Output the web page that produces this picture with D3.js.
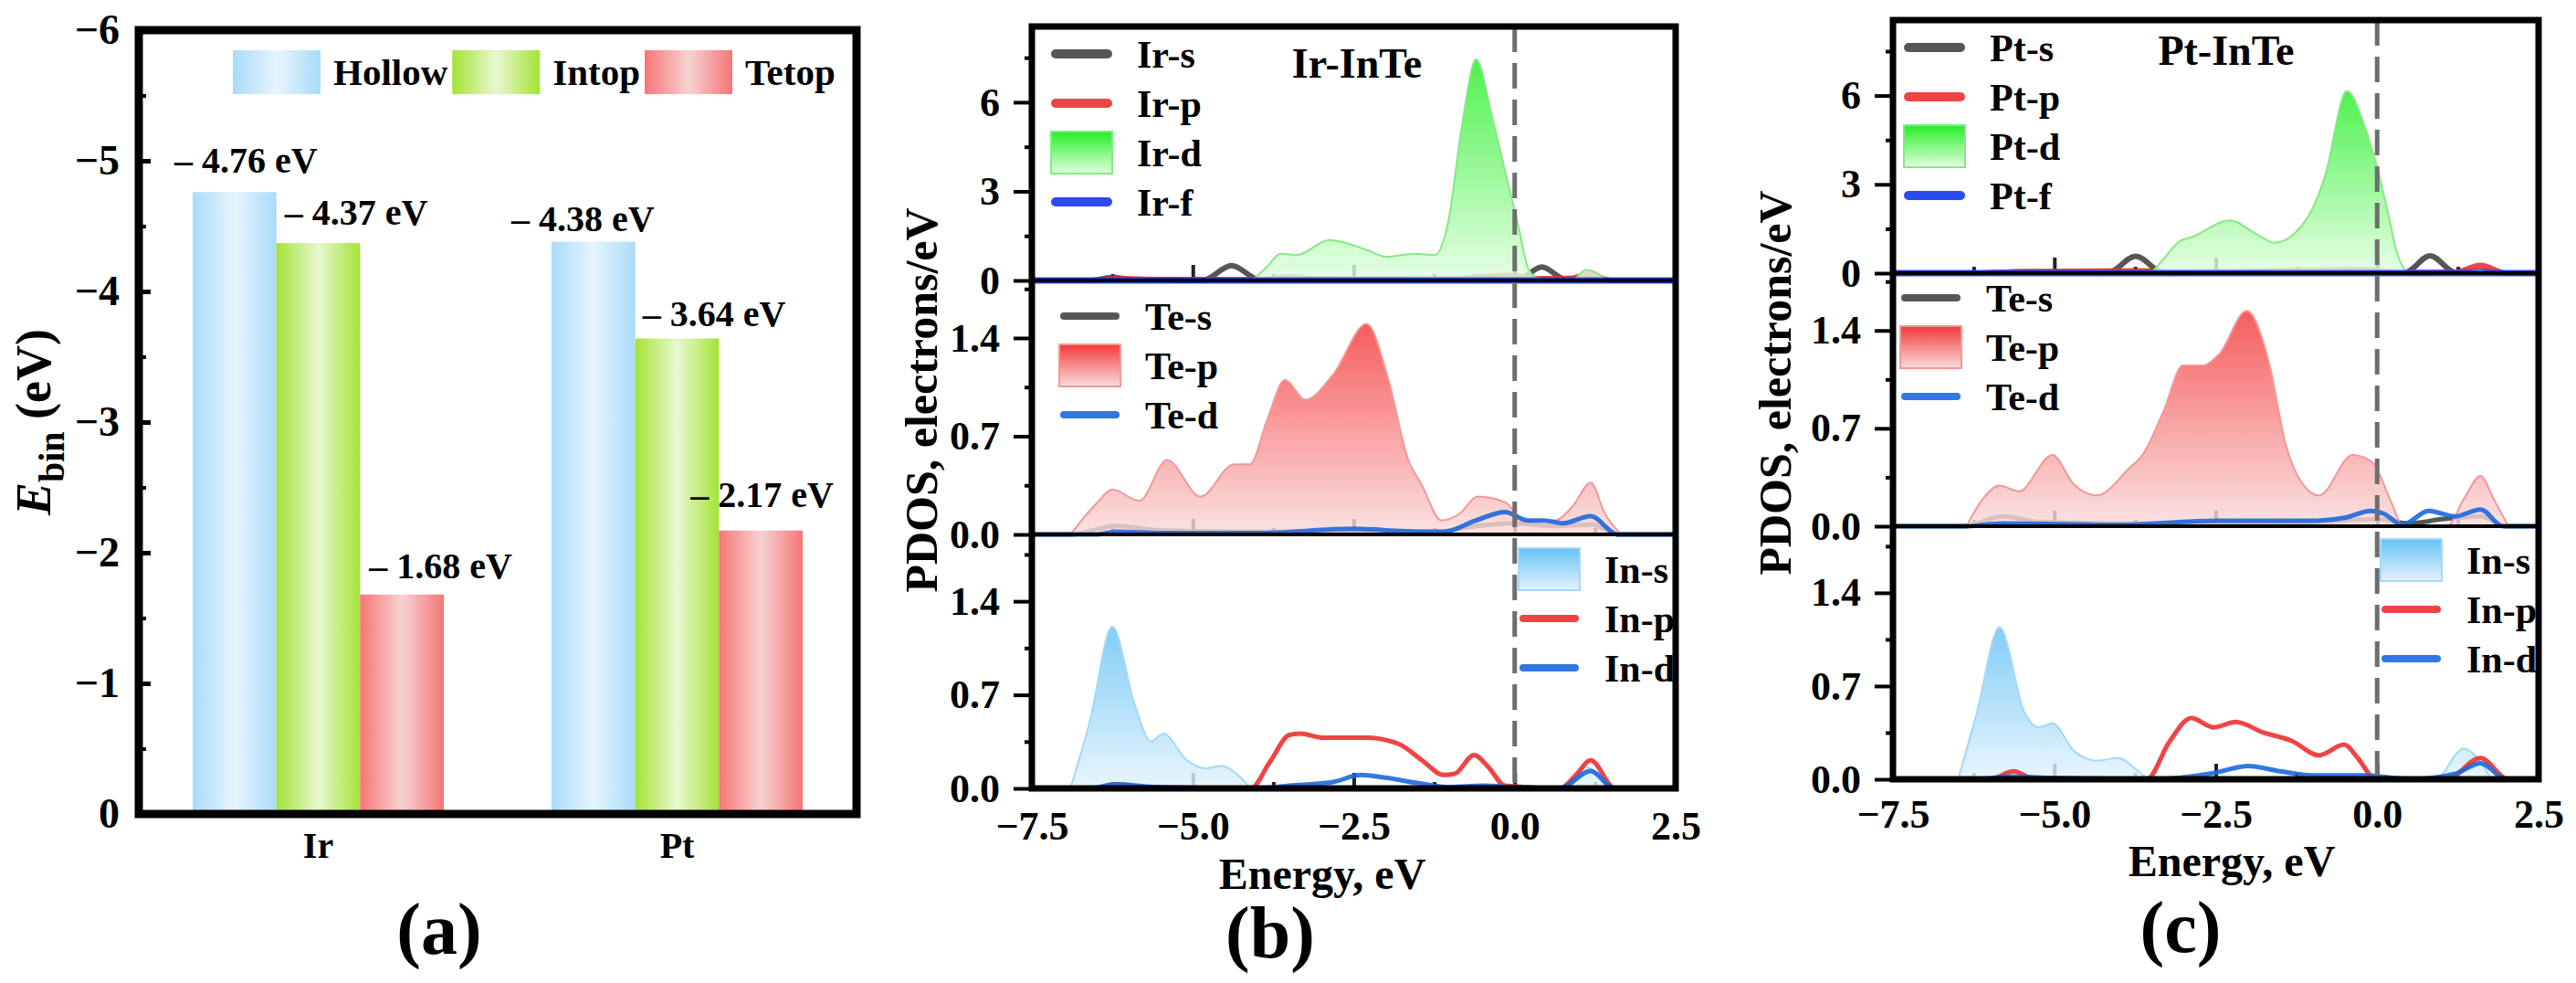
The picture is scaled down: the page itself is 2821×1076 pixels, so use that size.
<!DOCTYPE html>
<html>
<head>
<meta charset="utf-8">
<script src="https://cdn.jsdelivr.net/npm/d3@7"></script>
<style>
  body { margin: 0; background: #fff; }
  text { font-family: "Liberation Serif", "Times New Roman", serif; font-weight: bold; }
</style>
</head>
<body>
<svg id="fig"></svg>
<script>
// ---- (a) binding energies ----
const metals = ["Ir", "Pt"];
const sites = ["Hollow", "Intop", "Tetop"];
const eHollow = [-4.76, -4.38];
const eIntop = [-4.37, -3.64];
const eTetop = [-1.68, -2.17];
const bindTicks = [0, -1, -2, -3, -4, -5, -6];

// ---- PDOS, energy in eV vs states ----
const energyTicks = [-7.5, -5.0, -2.5, 0.0, 2.5];

// (b) Ir-InTe
const irS = [[-7.5,0],[-6.6,0],[-6.25,0.1],[-5.9,0.02],[-4.85,0],[-4.4,0.5],[-3.95,0.02],[-3.5,0.05],[-1.0,0.03],[-0.5,0.12],[0.05,0.02],[0.42,0.45],[0.8,0.03],[1.1,0.1],[1.5,0],[2.5,0]];
const irP = [[-7.5,0],[-6.5,0],[-6.2,0.06],[-5.5,0.03],[-4.0,0.02],[-3.5,0.12],[-3.0,0.04],[-1.0,0.05],[-0.1,0.17],[0.4,0.06],[0.9,0.08],[1.15,0.22],[1.5,0],[2.5,0]];
const irD = [[-4.08,0],[-3.85,0.45],[-3.64,0.9],[-3.38,0.86],[-2.88,1.36],[-2.31,1.04],[-1.99,0.8],[-1.55,0.9],[-1.24,0.86],[-1.03,2.0],[-0.82,5.2],[-0.6,7.44],[-0.34,5.42],[-0.13,3.5],[0.04,2.0],[0.21,0.41],[0.34,0.09],[0.55,0.02],[0.9,0.03],[1.11,0.35],[1.45,0]];
const irF = [[-7.5,0],[2.5,0]];
const teS_b = [[-7.5,0],[-6.9,0],[-6.2,0.06],[-5.5,0.03],[-4.0,0.02],[-1.2,0.02],[-0.6,0.06],[0.0,0.08],[0.6,0.06],[1.2,0.07],[1.6,0],[2.5,0]];
const teP_b = [[-6.9,0],[-6.5,0.22],[-6.25,0.32],[-5.83,0.24],[-5.4,0.53],[-4.88,0.27],[-4.36,0.5],[-4.11,0.5],[-3.85,0.81],[-3.57,1.1],[-3.25,0.96],[-2.82,1.14],[-2.3,1.5],[-1.96,1.1],[-1.66,0.54],[-1.44,0.35],[-1.14,0.1],[-0.85,0.15],[-0.58,0.27],[-0.15,0.23],[0.15,0.1],[0.62,0.1],[0.9,0.2],[1.18,0.37],[1.4,0.15],[1.65,0]];
const teD_b = [[-7.5,0],[-6.5,0],[-6.2,0.02],[-5.5,0.01],[-4.0,0.01],[-2.5,0.04],[-1.5,0.02],[-1.1,0.02],[-0.6,0.1],[-0.15,0.16],[0.2,0.1],[0.45,0.1],[0.75,0.08],[1.18,0.13],[1.6,0],[2.5,0]];
const inS_b = [[-6.9,0],[-6.6,0.5],[-6.25,1.21],[-5.91,0.64],[-5.65,0.35],[-5.46,0.41],[-5.09,0.21],[-4.8,0.15],[-4.54,0.17],[-4.3,0.1],[-4.05,0],[0.8,0],[1.1,0.16],[1.45,0]];
const inP_b = [[-7.5,0],[-6.5,0],[-6.2,0.03],[-5.8,0.01],[-4.1,0],[-3.8,0.2],[-3.5,0.4],[-3.33,0.41],[-2.99,0.38],[-2.3,0.38],[-1.79,0.33],[-1.44,0.21],[-1.1,0.1],[-0.93,0.11],[-0.63,0.25],[-0.41,0.16],[-0.15,0.02],[0.7,0],[0.95,0.1],[1.18,0.21],[1.56,0],[2.5,0]];
const inD_b = [[-7.5,0],[-6.6,0],[-6.2,0.03],[-5.6,0.01],[-4.0,0],[-3.5,0.02],[-2.8,0.05],[-2.4,0.1],[-2.0,0.08],[-1.5,0.04],[-1.0,0.01],[-0.5,0.02],[0.0,0.01],[0.7,0],[1.18,0.13],[1.55,0],[2.5,0]];

// (c) Pt-InTe
const ptS = [[-7.5,0],[-6.2,0],[-5.5,0.05],[-4.5,0.03],[-4.17,0.02],[-3.74,0.57],[-3.31,0.02],[-1.0,0.04],[-0.3,0.1],[0.1,0.02],[0.44,0.03],[0.82,0.59],[1.21,0.03],[1.6,0.08],[2.0,0],[2.5,0]];
const ptP = [[-7.5,0],[-6.2,0],[-5.5,0.05],[-3.6,0.08],[-3.2,0.03],[-0.2,0.12],[0.4,0.02],[1.2,0.03],[1.6,0.26],[2.0,0],[2.5,0]];
const ptD = [[-3.5,0],[-3.3,0.5],[-3.05,1.09],[-2.88,1.21],[-2.28,1.78],[-1.85,1.29],[-1.59,1.03],[-1.07,1.91],[-0.81,3.26],[-0.47,6.15],[-0.17,4.81],[0.0,3.57],[0.18,1.91],[0.31,0.67],[0.44,0.1],[0.56,0],[1.3,0],[1.55,0.1],[1.8,0]];
const ptF = [[-7.5,0],[2.5,0]];
const teS_c = [[-7.5,0],[-6.4,0],[-5.8,0.07],[-5.2,0.03],[-3.5,0.02],[-1.0,0.03],[0.0,0.05],[0.5,0.02],[1.0,0.05],[1.6,0.07],[2.0,0],[2.5,0]];
const teP_c = [[-6.36,0],[-6.1,0.2],[-5.85,0.29],[-5.55,0.25],[-5.03,0.51],[-4.7,0.3],[-4.34,0.22],[-3.83,0.42],[-3.65,0.5],[-3.31,0.82],[-3.01,1.15],[-2.71,1.15],[-2.45,1.23],[-2.02,1.54],[-1.67,1.16],[-1.42,0.59],[-1.15,0.3],[-0.9,0.22],[-0.38,0.51],[-0.08,0.46],[0.22,0.17],[0.39,0.01],[1.08,0],[1.35,0.2],[1.6,0.36],[1.8,0.2],[2.03,0]];
const teD_c = [[-7.5,0],[-6.4,0],[-5.8,0.02],[-4.0,0.01],[-2.5,0.04],[-1.0,0.04],[-0.5,0.06],[-0.1,0.11],[0.1,0.09],[0.39,0.01],[0.8,0.11],[1.2,0.07],[1.6,0.12],[1.95,0],[2.5,0]];
const inS_c = [[-6.49,0],[-6.2,0.5],[-5.85,1.14],[-5.46,0.5],[-5.25,0.39],[-5.03,0.42],[-4.69,0.21],[-4.34,0.14],[-4.0,0.16],[-3.75,0.08],[-3.5,0],[0.9,0],[1.34,0.23],[1.77,0]];
const inP_c = [[-7.5,0],[-6.0,0],[-5.63,0.06],[-5.3,0],[-3.57,0],[-3.22,0.28],[-2.88,0.46],[-2.53,0.39],[-2.19,0.43],[-1.76,0.35],[-1.33,0.29],[-0.9,0.18],[-0.51,0.26],[-0.3,0.16],[-0.04,0.01],[1.08,0],[1.6,0.16],[2.03,0],[2.5,0]];
const inD_c = [[-7.5,0],[-6.2,0],[-5.7,0.02],[-5.0,0.01],[-3.5,0],[-2.5,0.05],[-2.0,0.1],[-1.5,0.06],[-1.0,0.03],[-0.2,0.03],[0.5,0],[1.2,0.04],[1.6,0.12],[2.0,0],[2.5,0]];

const W = 2821, H = 1076;
const svg = d3.select("#fig").attr("width", W).attr("height", H);
const defs = svg.append("defs");

function hGrad(id, edge, mid) {
  const g = defs.append("linearGradient").attr("id", id)
    .attr("x1", 0).attr("x2", 1).attr("y1", 0).attr("y2", 0);
  g.append("stop").attr("offset", "0%").attr("stop-color", edge);
  g.append("stop").attr("offset", "50%").attr("stop-color", mid);
  g.append("stop").attr("offset", "100%").attr("stop-color", edge);
}
function vGrad(id, top, bottom) {
  const g = defs.append("linearGradient").attr("id", id)
    .attr("x1", 0).attr("x2", 0).attr("y1", 0).attr("y2", 1);
  g.append("stop").attr("offset", "0%").attr("stop-color", top);
  g.append("stop").attr("offset", "100%").attr("stop-color", bottom);
}
hGrad("barBlue", "#a9dbfa", "#e6f5fe");
hGrad("barGreen", "#a3e437", "#e8f7d0");
hGrad("barRed", "#f67676", "#f7d2d3");
vGrad("fillGreen", "#26ee26", "#e2ffe0");
vGrad("fillRed", "#f43939", "#fadcdc");
vGrad("fillBlue", "#66c2f5", "#e3f3fd");

const FONT = '"Liberation Serif", "Times New Roman", serif';

// =============== (a) bar chart ===============
const A = { left: 152, right: 938, top: 33, bottom: 891 };
const siteValues = { Hollow: eHollow, Intop: eIntop, Tetop: eTetop };
const siteFill = { Hollow: "url(#barBlue)", Intop: "url(#barGreen)", Tetop: "url(#barRed)" };
// label placement tweaks (px): horizontal shift from bar left, lift above bar top
const labelShift = { Hollow: [-20, -44], Intop: [9, 8], Tetop: [10, -31] };
const labelLift = { Hollow: [21, 12], Intop: [20, 13], Tetop: [18, 26] };

const x0 = d3.scaleBand().domain(metals).range([A.left, A.right]).paddingInner(0.3).paddingOuter(0.15);
const x1 = d3.scaleBand().domain(sites).range([0, x0.bandwidth()]);
const yA = d3.scaleLinear().domain([0, -6]).range([A.bottom, A.top]);

const gA = svg.append("g");
metals.forEach((m, i) => {
  sites.forEach(s => {
    const v = siteValues[s][i];
    const bx = x0(m) + x1(s);
    gA.append("rect")
      .attr("x", bx).attr("y", yA(v))
      .attr("width", x1.bandwidth()).attr("height", yA(0) - yA(v))
      .attr("fill", siteFill[s]);
    gA.append("text")
      .attr("x", bx + labelShift[s][i])
      .attr("y", yA(v) - labelLift[s][i])
      .attr("font-size", 40)
      .text("– " + Math.abs(v).toFixed(2) + " eV");
  });
});

// y axis (inward ticks)
gA.append("g").attr("transform", `translate(${A.left},0)`)
  .call(d3.axisLeft(yA).tickValues(d3.range(-0.5, -6, -1)).tickSize(-8).tickFormat(""))
  .call(g => g.select(".domain").remove())
  .selectAll("line").attr("stroke-width", 4);
gA.append("g").attr("transform", `translate(${A.left},0)`)
  .call(d3.axisLeft(yA).tickValues(bindTicks).tickSize(-13).tickPadding(21).tickFormat(d3.format("d")))
  .call(g => g.select(".domain").remove())
  .attr("font-family", FONT).attr("font-size", 46)
  .selectAll("line").attr("stroke-width", 5);

// category axis
gA.append("g").attr("transform", `translate(0,${A.bottom})`)
  .call(d3.axisBottom(x0).tickSize(0).tickPadding(20))
  .call(g => g.select(".domain").remove())
  .attr("font-family", FONT).attr("font-size", 40);

gA.append("rect")
  .attr("x", A.left).attr("y", A.top)
  .attr("width", A.right - A.left).attr("height", A.bottom - A.top)
  .attr("fill", "none").attr("stroke", "#000").attr("stroke-width", 9);

// legend
let lx = 255;
sites.forEach(s => {
  gA.append("rect").attr("x", lx).attr("y", 55).attr("width", 96).attr("height", 48)
    .attr("fill", siteFill[s]);
  const t = gA.append("text").attr("x", lx + 110).attr("y", 93).attr("font-size", 41).text(s);
  lx += 110 + t.node().getComputedTextLength() + 5;
});

// y title
const yt = gA.append("text")
  .attr("transform", "translate(55,462) rotate(-90)")
  .attr("text-anchor", "middle").attr("font-size", 54);
yt.append("tspan").style("font-style", "italic").text("E");
yt.append("tspan").attr("font-size", 40).attr("dy", 15).text("bin");
yt.append("tspan").attr("dy", -15).text(" (eV)");

gA.append("text").attr("x", 481).attr("y", 1044).attr("text-anchor", "middle")
  .attr("font-size", 80).text("(a)");

// =============== (b), (c) PDOS ===============
const C = { grey: "#444444", red: "#ee3030", blueF: "#1638ee", blueD: "#1c68df" };
const rowMax = [8.55, 1.81, 1.9];
const rowTicks = [[0, 3, 6], [0, 0.7, 1.4], [0, 0.7, 1.4]];
const rowMinor = [[1.5, 4.5, 7.5], [0.35, 1.05, 1.75], [0.35, 1.05, 1.75]];
const rowFmt = [d3.format("d"), d3.format(".1f"), d3.format(".1f")];

const panels = [
  {
    left: 1130, right: 1835, top: 29, bottom: 863,
    title: "Ir-InTe", titleX: 1486, titleY: 85,
    yTitleX: 1026, yTitleY: 438, xTitleX: 1448, xTitleY: 973, xPad: 25,
    tag: "(b)", tagX: 1391, tagY: 1048,
    legends: [{ x: 1151, y: 59 }, { x: 1160, y: 346 }, { x: 1663, y: 623 }],
    rows: [
      [{ label: "Ir-s", data: irS, color: C.grey, w: 6 },
       { label: "Ir-p", data: irP, color: C.red, w: 6 },
       { label: "Ir-d", data: irD, fill: "fillGreen", edge: "#86e886" },
       { label: "Ir-f", data: irF, color: C.blueF, w: 7 }],
      [{ label: "Te-s", data: teS_b, color: C.grey, w: 5 },
       { label: "Te-p", data: teP_b, fill: "fillRed", edge: "#f39797" },
       { label: "Te-d", data: teD_b, color: C.blueD, w: 5 }],
      [{ label: "In-s", data: inS_b, fill: "fillBlue", edge: "#a3d8f7" },
       { label: "In-p", data: inP_b, color: C.red, w: 5 },
       { label: "In-d", data: inD_b, color: C.blueD, w: 5 }]
    ]
  },
  {
    left: 2073, right: 2780, top: 22, bottom: 853,
    title: "Pt-InTe", titleX: 2438, titleY: 71,
    yTitleX: 1961, yTitleY: 419, xTitleX: 2444, xTitleY: 959, xPad: 22,
    tag: "(c)", tagX: 2388, tagY: 1042,
    legends: [{ x: 2085, y: 52 }, { x: 2081, y: 326 }, { x: 2607, y: 613 }],
    rows: [
      [{ label: "Pt-s", data: ptS, color: C.grey, w: 6 },
       { label: "Pt-p", data: ptP, color: C.red, w: 6 },
       { label: "Pt-d", data: ptD, fill: "fillGreen", edge: "#86e886" },
       { label: "Pt-f", data: ptF, color: C.blueF, w: 7 }],
      [{ label: "Te-s", data: teS_c, color: C.grey, w: 5 },
       { label: "Te-p", data: teP_c, fill: "fillRed", edge: "#f39797" },
       { label: "Te-d", data: teD_c, color: C.blueD, w: 5 }],
      [{ label: "In-s", data: inS_c, fill: "fillBlue", edge: "#a3d8f7" },
       { label: "In-p", data: inP_c, color: C.red, w: 5 },
       { label: "In-d", data: inD_c, color: C.blueD, w: 5 }]
    ]
  }
];

panels.forEach((P, pi) => {
  const g = svg.append("g");
  const x = d3.scaleLinear().domain([-7.5, 2.5]).range([P.left, P.right]);
  const rowH = (P.bottom - P.top) / 3;
  const clipId = "clip" + pi;
  defs.append("clipPath").attr("id", clipId).append("rect")
    .attr("x", P.left).attr("y", P.top).attr("width", P.right - P.left).attr("height", P.bottom - P.top);

  P.rows.forEach((series, ri) => {
    const rTop = P.top + ri * rowH, rBot = rTop + rowH;
    const y = d3.scaleLinear().domain([0, rowMax[ri]]).range([rBot, rTop]);

    // inner energy ticks on each row floor (under the curves)
    g.append("g").attr("transform", `translate(0,${rBot})`)
      .call(d3.axisBottom(x).tickValues([-5, -2.5, 0]).tickSize(-17).tickFormat(""))
      .call(a => a.select(".domain").remove())
      .selectAll("line").attr("stroke", "#222").attr("stroke-width", 4);
    g.append("g").attr("transform", `translate(0,${rBot})`)
      .call(d3.axisBottom(x).tickValues([-6.25, -3.75, -1.25, 1.25]).tickSize(-7).tickFormat(""))
      .call(a => a.select(".domain").remove())
      .selectAll("line").attr("stroke", "#222").attr("stroke-width", 4);

    const plot = g.append("g").attr("clip-path", `url(#${clipId})`);
    series.forEach(s => {
      if (s.fill) {
        plot.append("path").datum(s.data)
          .attr("d", d3.area().x(d => x(d[0])).y0(y(0)).y1(d => y(d[1])).curve(d3.curveMonotoneX))
          .attr("fill", `url(#${s.fill})`).attr("fill-opacity", 0.82)
          .attr("stroke", s.edge).attr("stroke-width", 2);
      } else {
        plot.append("path").datum(s.data)
          .attr("d", d3.line().x(d => x(d[0])).y(d => y(d[1])).curve(d3.curveMonotoneX))
          .attr("fill", "none").attr("stroke", s.color).attr("stroke-width", s.w)
          .attr("stroke-linecap", "round").attr("stroke-linejoin", "round").attr("opacity", 0.9);
      }
    });

    // left axis
    g.append("g").attr("transform", `translate(${P.left},0)`)
      .call(d3.axisLeft(y).tickValues(rowMinor[ri]).tickSize(8).tickFormat(""))
      .call(a => a.select(".domain").remove())
      .selectAll("line").attr("stroke-width", 4);
    g.append("g").attr("transform", `translate(${P.left},0)`)
      .call(d3.axisLeft(y).tickValues(rowTicks[ri]).tickSize(20).tickPadding(15).tickFormat(rowFmt[ri]))
      .call(a => a.select(".domain").remove())
      .attr("font-family", FONT).attr("font-size", 44)
      .selectAll("line").attr("stroke-width", 4);

    if (ri > 0) {
      g.append("line").attr("x1", P.left).attr("x2", P.right).attr("y1", rTop).attr("y2", rTop)
        .attr("stroke", "#000").attr("stroke-width", 4);
    }

    // legend
    const L = P.legends[ri];
    series.forEach((s, k) => {
      const cy = L.y + k * 54;
      if (s.fill) {
        g.append("rect").attr("x", L.x).attr("y", cy - 23).attr("width", 67).attr("height", 46)
          .attr("fill", `url(#${s.fill})`).attr("stroke", s.edge).attr("stroke-width", 2);
      } else {
        g.append("line").attr("x1", L.x + 5).attr("x2", L.x + 62).attr("y1", cy).attr("y2", cy)
          .attr("stroke", s.color).attr("stroke-width", ri === 0 ? 10 : 8)
          .attr("stroke-linecap", "round").attr("opacity", 0.9);
      }
      g.append("text").attr("x", L.x + 94).attr("y", cy).attr("dy", "0.35em")
        .attr("font-size", 42).text(s.label);
    });
  });

  // Fermi level
  g.append("line").attr("x1", x(0)).attr("x2", x(0)).attr("y1", P.top).attr("y2", P.bottom)
    .attr("stroke", "#6e6e6e").attr("stroke-width", 5).attr("stroke-dasharray", "28,12");

  // frame
  g.append("rect").attr("x", P.left).attr("y", P.top)
    .attr("width", P.right - P.left).attr("height", P.bottom - P.top)
    .attr("fill", "none").attr("stroke", "#000").attr("stroke-width", 7);

  // energy labels
  g.append("g").attr("transform", `translate(0,${P.bottom})`)
    .call(d3.axisBottom(x).tickValues(energyTicks).tickSize(0).tickPadding(P.xPad).tickFormat(d3.format(".1f")))
    .call(a => a.select(".domain").remove())
    .attr("font-family", FONT).attr("font-size", 44);

  g.append("text").attr("x", P.titleX).attr("y", P.titleY).attr("text-anchor", "middle")
    .attr("font-size", 46).text(P.title);
  g.append("text").attr("transform", `translate(${P.yTitleX},${P.yTitleY}) rotate(-90)`)
    .attr("text-anchor", "middle").attr("font-size", 50).text("PDOS, electrons/eV");
  g.append("text").attr("x", P.xTitleX).attr("y", P.xTitleY).attr("text-anchor", "middle")
    .attr("font-size", 48).text("Energy, eV");
  g.append("text").attr("x", P.tagX).attr("y", P.tagY).attr("text-anchor", "middle")
    .attr("font-size", 80).text(P.tag);
});
</script>
</body>
</html>
